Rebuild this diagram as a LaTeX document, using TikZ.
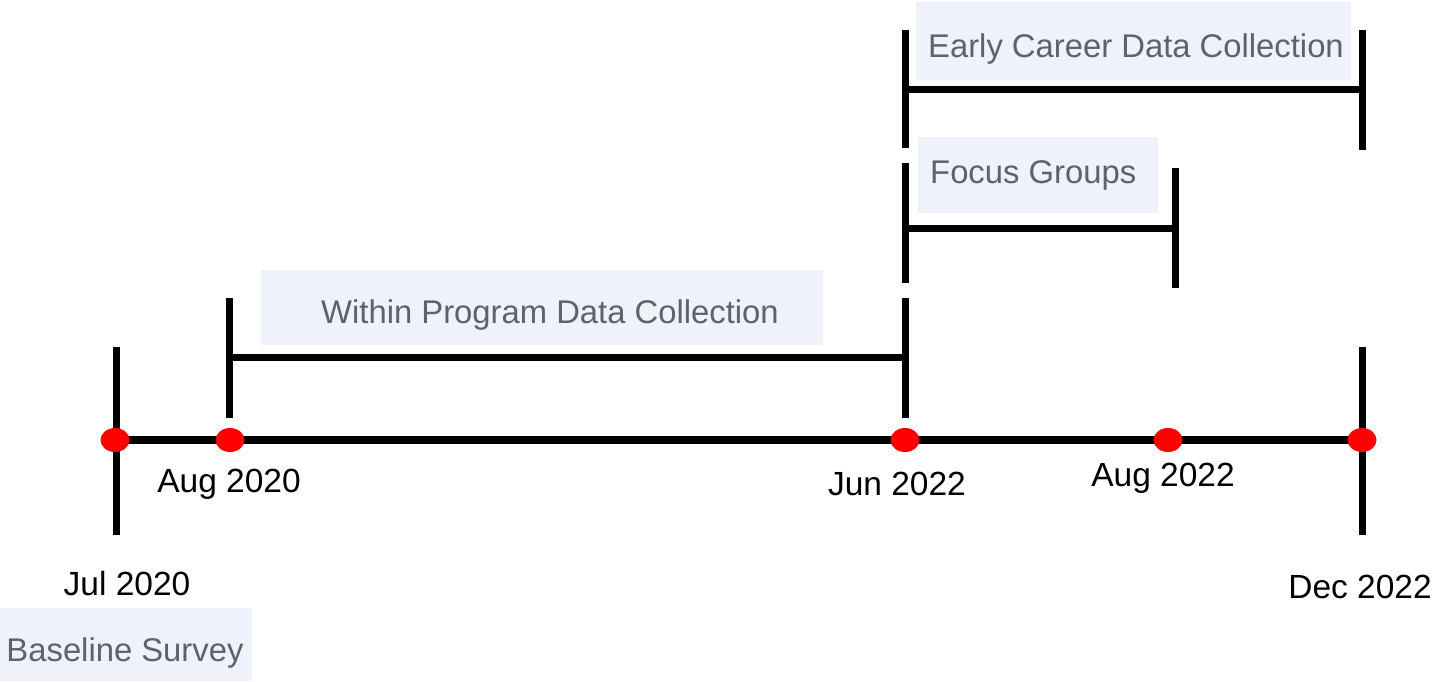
\documentclass[tikz,border=0pt]{standalone}
\usepackage{fontspec}
\setmainfont{Liberation Sans}
\usetikzlibrary{shapes.geometric}
\definecolor{boxfill}{HTML}{EFF2FA}
\definecolor{boxtext}{HTML}{5C6370}
\tikzset{
  bar/.style={line width=7pt, draw=black},
  axisline/.style={line width=8pt, draw=black},
  dot/.style={ellipse, fill=red, minimum width=29pt, minimum height=24pt, inner sep=0pt},
  datelbl/.style={font=\fontsize{33.5}{33.5}\selectfont, text=black, inner sep=0pt},
  lblbox/.style={fill=boxfill, inner sep=0pt},
  boxlbl/.style={font=\fontsize{32.8}{32.8}\selectfont, text=boxtext, inner sep=0pt},
}
\begin{document}
\begin{tikzpicture}[x=1pt,y=-1pt]
\useasboundingbox (0,0) rectangle (1435,681);

% label boxes
\node[lblbox, minimum width=435pt, minimum height=78pt] (ecbox) at (1133.5,41) {};
\node[lblbox, minimum width=240pt, minimum height=76pt] (fgbox) at (1038,175) {};
\node[lblbox, minimum width=562pt, minimum height=75pt] (wpbox) at (542,307.5) {};
\node[lblbox, minimum width=252pt, minimum height=73pt] (bsbox) at (126,644.5) {};

\node[boxlbl] (ectext) at (1136,49) {Early Career Data Collection};
\node[boxlbl, anchor=west] (fgtext) at (930,175) {Focus Groups};
\node[boxlbl] (wptext) at (550,315) {Within Program Data Collection};
\node[boxlbl] (bstext) at (125,653) {Baseline Survey};

% timeline positions
\coordinate (p1) at (115,440);
\coordinate (p2) at (230,440);
\coordinate (p3) at (905,440);
\coordinate (p4) at (1168,440);
\coordinate (p5) at (1362,440);

% ticks through axis
\coordinate (jt) at (116,347); \coordinate (jb) at (116,535);
\coordinate (dt) at (1362,347); \coordinate (db) at (1362,535);
\draw[bar] (jt) -- (jb);
\draw[bar] (dt) -- (db);

% Within Program bracket
\coordinate (w1t) at (229,298); \coordinate (w1b) at (229,418);
\coordinate (w1m) at (229,357); \coordinate (w2m) at (905,357);
\coordinate (w2t) at (905,298); \coordinate (w2b) at (905,418);
\draw[bar] (w1t) -- (w1b);
\draw[bar] (w2t) -- (w2b);
\draw[bar] (w1m) -- (w2m);

% Focus Groups bracket
\coordinate (f1t) at (905,163); \coordinate (f1b) at (905,283);
\coordinate (f1m) at (905,228); \coordinate (f2m) at (1175,228);
\coordinate (f2t) at (1175,168); \coordinate (f2b) at (1175,288);
\draw[bar] (f1t) -- (f1b);
\draw[bar] (f2t) -- (f2b);
\draw[bar] (f1m) -- (f2m);

% Early Career bracket
\coordinate (e1t) at (905,30); \coordinate (e1b) at (905,148);
\coordinate (e1m) at (905,89); \coordinate (e2m) at (1362,89);
\coordinate (e2t) at (1362,30); \coordinate (e2b) at (1362,150);
\draw[bar] (e1t) -- (e1b);
\draw[bar] (e2t) -- (e2b);
\draw[bar] (e1m) -- (e2m);

% axis
\draw[axisline] (p1) -- (p5);

% dots
\node[dot] (d1) at (p1) {};
\node[dot] (d2) at (p2) {};
\node[dot] (d3) at (p3) {};
\node[dot] (d4) at (p4) {};
\node[dot] (d5) at (p5) {};

% date labels
\node[datelbl] (l1) at (127,584) {Jul 2020};
\node[datelbl] (l2) at (229,484) {Aug 2020};
\node[datelbl] (l3) at (897,484) {Jun 2022};
\node[datelbl] (l4) at (1163,478) {Aug 2022};
\node[datelbl] (l5) at (1360,587) {Dec 2022};
\end{tikzpicture}
\end{document}
